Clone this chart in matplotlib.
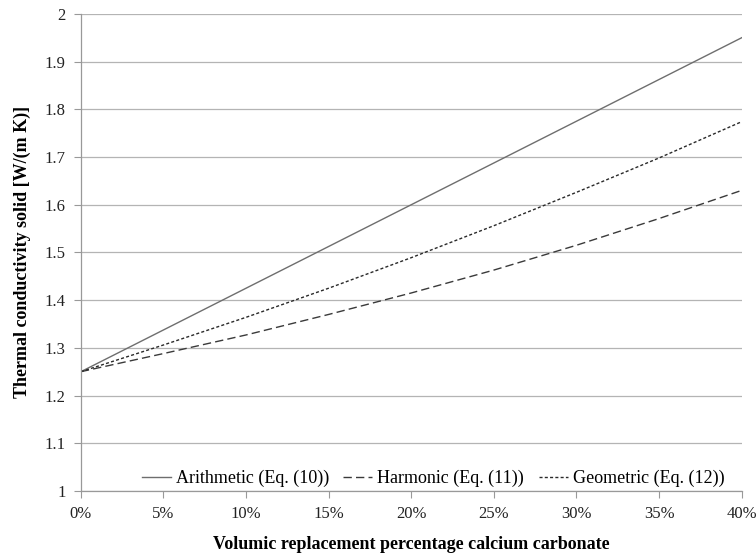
import numpy as np
import matplotlib.pyplot as plt
from matplotlib.ticker import FuncFormatter

# Datos (porcentaje de reemplazo vs conductividad)
pct = [0, 5, 10, 15, 20, 25, 30, 35, 40]
arithmetic = [1.25, 1.3375, 1.425, 1.5125, 1.60, 1.6875, 1.775, 1.8625, 1.95]
harmonic = [1.25, 1.288, 1.327, 1.370, 1.415, 1.463, 1.515, 1.571, 1.630]
geometric = [1.25, 1.306, 1.364, 1.425, 1.489, 1.556, 1.626, 1.698, 1.774]

plt.rcParams['font.family'] = ['Liberation Serif', 'DejaVu Serif']

fig = plt.figure(figsize=(7.56, 5.56), dpi=100)
ax = fig.add_axes([0.107, 0.117, 0.874, 0.858])

ax.plot(pct, arithmetic, '-', color='#6e6e6e', lw=1.0, label='Arithmetic (Eq. (10))')
ax.plot(pct, harmonic, color='#3a3a3a', lw=1.0, dashes=(6, 3), label='Harmonic (Eq. (11))')
ax.plot(pct, geometric, color='#2a2a2a', lw=1.0, dashes=(2.2, 1.6), label='Geometric (Eq. (12))')

ax.set_xlim(0, 40)
ax.set_ylim(1, 2)
ax.set_xticks(pct)
ax.set_yticks(np.round(np.arange(1, 2.01, 0.1), 1))
ax.xaxis.set_major_formatter(FuncFormatter(lambda v, p: f'{v:.0f}%'))
ax.yaxis.set_major_formatter(FuncFormatter(lambda v, p: f'{v:g}'))

ax.grid(axis='y', color='#b4b4b4', lw=0.9)
ax.set_axisbelow(True)
for s in ['top', 'right']:
    ax.spines[s].set_visible(False)
for s in ['left', 'bottom']:
    ax.spines[s].set_color('#999999')
    ax.spines[s].set_linewidth(0.9)
ax.tick_params(axis='both', direction='out', length=5, color='#999999',
               labelsize=12, labelcolor='#222222', pad=6)

ax.set_xlabel('Volumic replacement percentage calcium carbonate',
              fontsize=13, fontweight='bold', labelpad=10)
ax.set_ylabel('Thermal conductivity solid [W/(m K)]',
              fontsize=13, fontweight='bold', labelpad=10)

ax.legend(loc='lower right', ncol=3, frameon=False, fontsize=13,
          handlelength=1.6, handletextpad=0.28, columnspacing=0.8,
          bbox_to_anchor=(0.99, -0.015), borderaxespad=0.2)

fig.savefig('out.png', dpi=100)
